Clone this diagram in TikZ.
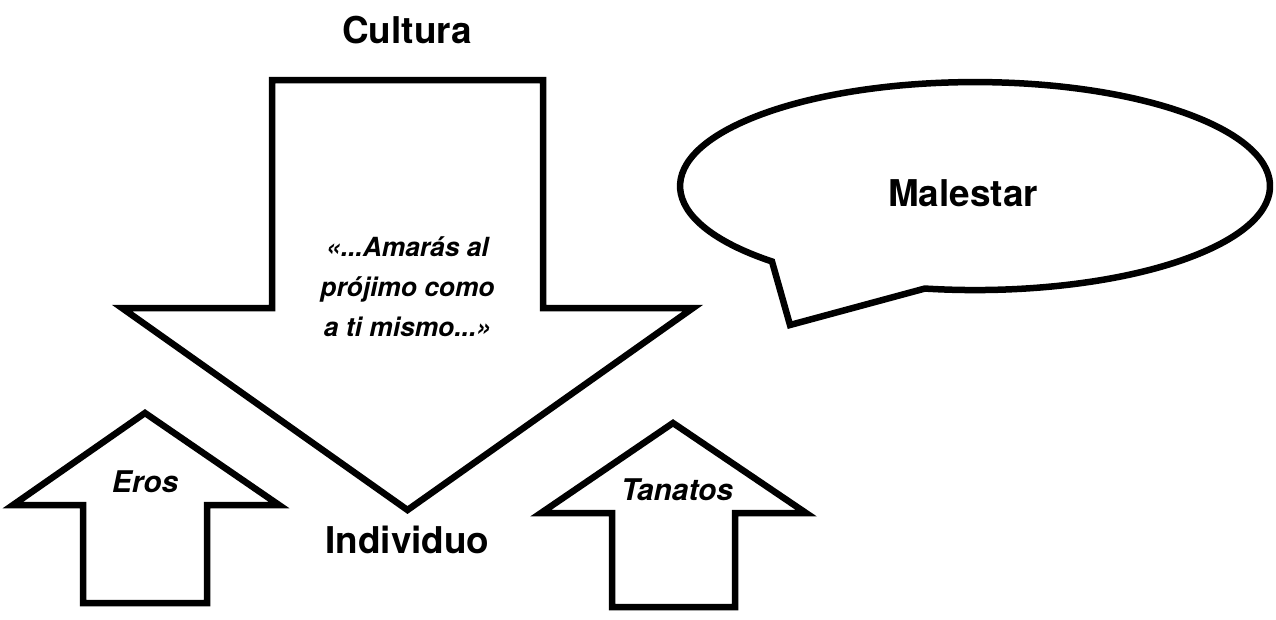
\documentclass[tikz,border=0pt]{standalone}
\usepackage{fontspec}
\setmainfont{TeX Gyre Heros}
\usepackage{tikz}

\tikzset{
  outline/.style={line width=3.7pt, fill=white},
  bigtext/.style={font=\fontsize{21}{25}\selectfont\bfseries},
  quotetext/.style={font=\fontsize{15}{22.8}\selectfont\bfseries\itshape, align=center},
  drivetext/.style={font=\fontsize{17}{20}\selectfont\bfseries\itshape},
}

\begin{document}
\begin{tikzpicture}
\useasboundingbox (0,0) rectangle (25.52,-12.38);
% big arrow, culture down to the individual
\draw [outline] (5.44,-1.6) -- (10.86,-1.6) -- (10.86,-6.16) -- (13.86,-6.16) -- (8.15,-10.2) -- (2.44,-6.16) -- (5.44,-6.16) -- cycle;
% small arrows up
\draw [outline] (2.9,-8.26) -- (5.58,-10.1) -- (4.14,-10.1) -- (4.14,-12.06) -- (1.66,-12.06) -- (1.66,-10.1) -- (0.26,-10.1) -- cycle;
\draw [outline] (13.46,-8.46) -- (16.12,-10.26) -- (14.7,-10.26) -- (14.7,-12.14) -- (12.24,-12.14) -- (12.24,-10.26) -- (10.82,-10.26) -- cycle;
% speech bubble
\draw [outline] (15.44,-5.23) arc [start angle=226.5, end angle=-99.8, x radius=5.9, y radius=2.08] -- (15.8,-6.5) -- cycle;
\node [bigtext] (cultura) at (8.14,-0.6) {Cultura};
\node [quotetext] (precepto) at (8.15,-5.74) {«...Amarás al\\prójimo como\\a ti mismo...»};
\node [bigtext] (individuo) at (8.15,-10.8) {Individuo};
\node [bigtext] (malestar) at (19.26,-3.86) {Malestar};
\node [drivetext] (eros) at (2.9,-9.64) {Eros};
\node [drivetext] (tanatos) at (13.54,-9.8) {Tanatos};
\end{tikzpicture}
\end{document}
